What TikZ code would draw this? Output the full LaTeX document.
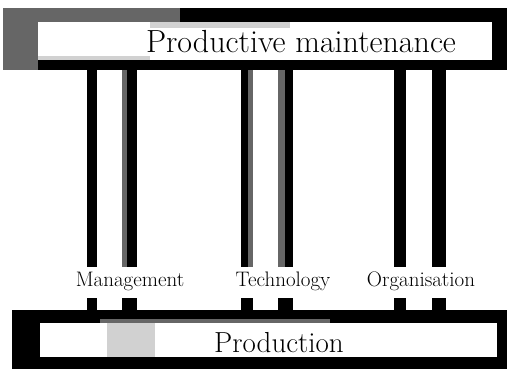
\documentclass[tikz,border=0pt]{standalone}
\usepackage{tikz}
\usetikzlibrary{positioning}

\tikzset{
    beam/.style={fill=black},
    bar/.style={fill=black},
    halftone/.style={fill=black!60},
    pale/.style={fill=black!18},
    pillarlabel/.style={font=\fontsize{21}{24}\selectfont, anchor=base, inner sep=0pt},
    beamlabel/.style={anchor=base, inner sep=0pt}
}

\begin{document}
\begin{tikzpicture}[x=1pt, y=-1pt]
            % Limits of the drawing
            \useasboundingbox[fill=white] (0,0) rectangle (507,369);

            % Draw top beam
            \fill[beam] (3,8) rectangle (507,70);
            \fill[halftone] (3,8) rectangle (38,70);
            \fill[halftone] (38,8) rectangle (180,22);
            \fill[white] (38,22) rectangle (492,60);
            \fill[pale] (150,22) rectangle (290,28);
            \fill[pale] (38,56) rectangle (150,60);

            % Draw bottom beam
            \fill[beam] (12,310) rectangle (507,369);
            \fill[halftone] (100,319) rectangle (330,323);
            \fill[white] (40,323) rectangle (497,357);
            \fill[pale] (107,323) rectangle (155,357);

            % Draw pillars (broken where the labels sit)
            \foreach \xl/\xr in {87/97, 122/137, 241/253, 278/293, 394/406, 432/446} {
                \fill[bar] (\xl,70) rectangle (\xr,267);
                \fill[bar] (\xl,298) rectangle (\xr,310);
            }
            \fill[halftone] (122,70) rectangle (127,267);
            \fill[halftone] (248,70) rectangle (253,267);
            \fill[halftone] (278,70) rectangle (285,267);

            % Draw labels
            \node[beamlabel, font=\fontsize{32}{38}\selectfont] (maint) at (301,53) {Productive maintenance};
            \node[pillarlabel] (mgmt) at (130,287) {Management};
            \node[pillarlabel] (tech) at (283,287) {Technology};
            \node[pillarlabel] (orga) at (421,287) {Organisation};
            \node[beamlabel, font=\fontsize{29}{34}\selectfont] (prod) at (279,352) {Production};
        \end{tikzpicture}
\end{document}
